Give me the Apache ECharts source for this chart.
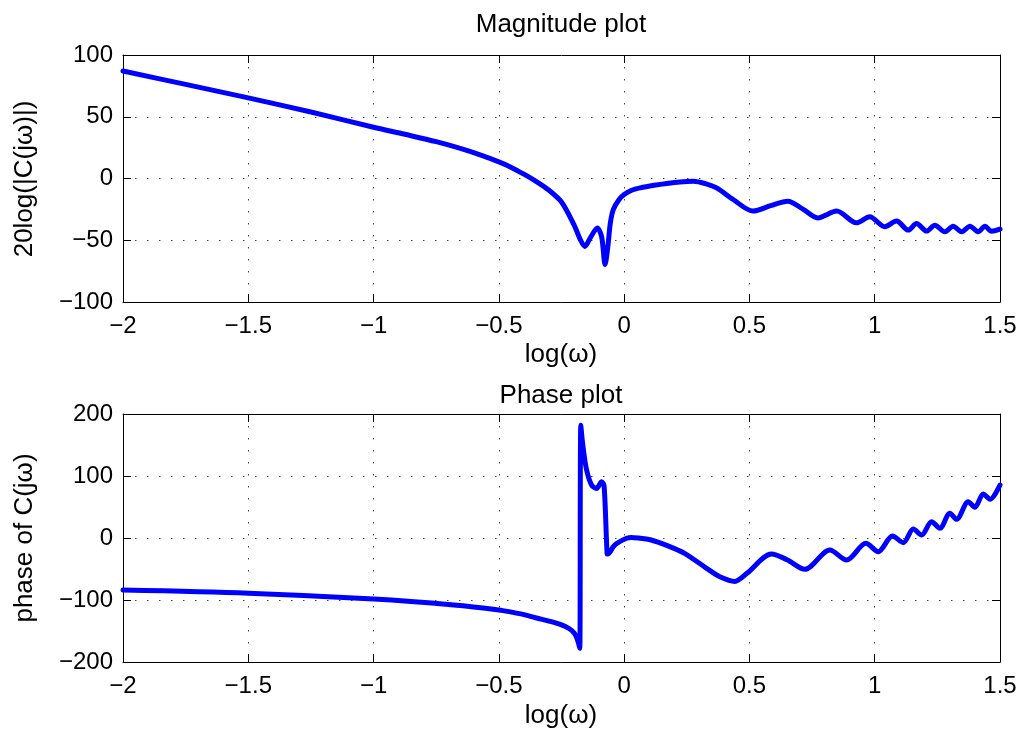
<!DOCTYPE html>
<html>
<head>
<meta charset="utf-8">
<script src="https://cdn.jsdelivr.net/npm/echarts@6/dist/echarts.min.js"></script>
<style>html,body{margin:0;padding:0;background:#fff;}#c{width:1029px;height:738px;}</style>
</head>
<body>
<div id="c"></div>
<script>
// ---- data ----
var xTicks = [-2, -1.5, -1, -0.5, 0, 0.5, 1, 1.5];
var magTicks = [-100, -50, 0, 50, 100];
var phaseTicks = [-200, -100, 0, 100, 200];

var magX = [-2, -1.75, -1.5, -1.25, -1, -0.875, -0.75, -0.625, -0.5, -0.45, -0.4, -0.35, -0.3, -0.25, -0.2, -0.176, -0.157, -0.135, -0.107, -0.09, -0.076, -0.065, -0.055, -0.043, -0.02, 0, 0.03, 0.064, 0.12, 0.17, 0.223, 0.276, 0.33, 0.369, 0.435, 0.515, 0.585, 0.653, 0.715, 0.773, 0.848, 0.927, 0.98, 1.04, 1.087, 1.134, 1.167, 1.207, 1.24, 1.28, 1.313, 1.347, 1.38, 1.413, 1.44, 1.466, 1.5];
var magY = [87, 76.2, 65.3, 53.8, 41.5, 35.8, 29.8, 22.5, 13.5, 9, 3.5, -2.5, -9.5, -19, -37.5, -49, -55, -48, -40, -47, -69.6, -55, -36, -25, -17, -13, -9.5, -7.6, -5.5, -4, -2.8, -2.3, -4.5, -7.6, -17, -26.4, -22, -18.4, -25, -31.9, -26.4, -35.9, -31, -39, -34.5, -41.8, -36.4, -42.6, -37.8, -43.2, -38.6, -43.2, -38.6, -43.2, -38.6, -42.7, -41];

var phaseX = [-2, -1.5, -1, -0.68, -0.5, -0.45, -0.4, -0.35, -0.3, -0.25, -0.22, -0.2, -0.19, -0.182, -0.177, -0.173, -0.165, -0.15, -0.13, -0.11, -0.09, -0.08, -0.068, -0.064, -0.043, -0.029, 0.01, 0.028, 0.064, 0.108, 0.17, 0.241, 0.329, 0.38, 0.442, 0.49, 0.588, 0.65, 0.721, 0.821, 0.888, 0.965, 1.014, 1.071, 1.114, 1.154, 1.187, 1.227, 1.26, 1.30, 1.327, 1.373, 1.40, 1.433, 1.46, 1.5];
var phaseY = [-84, -89, -98.4, -108, -116, -119.5, -123.5, -129, -134, -140, -146, -153, -160, -170, -178, 182, 150, 110, 85.5, 80, 90.8, 84, -25, -25.8, -14, -8.5, -0.5, 1, -0.5, -3.2, -12, -24.7, -48.9, -62, -70, -57, -25.8, -35, -50.5, -19.4, -35.5, -8.6, -22, 3.2, -7.5, 14.5, 4.8, 26.3, 15.6, 39.8, 30.1, 58.5, 49.5, 71, 62.4, 85.5];

function pairs(xs, ys) { return xs.map(function (x, i) { return [x, ys[i]]; }); }
function fmt(v) { return String(v).replace('-', '\u2212'); }

var FONT = '"Liberation Sans", Arial, sans-serif';
var labelStyle = { color: '#000', fontSize: 24, fontFamily: FONT };
var gridLine = { show: true, lineStyle: { color: '#444', width: 1, type: [1.5, 10.5] } };
var frameLine = { show: true, onZero: false, lineStyle: { color: '#000', width: 1 } };
var tickIn = { show: true, inside: true, length: 8, lineStyle: { color: '#000' } };

function xAxes(gi, ticks) {
  return [
    { type: 'value', gridIndex: gi, min: ticks[0], max: ticks[ticks.length - 1], interval: 0.5, position: 'bottom',
      axisLine: frameLine, axisTick: tickIn,
      axisLabel: Object.assign({ margin: 12, formatter: fmt }, labelStyle),
      splitLine: gridLine },
    { type: 'value', gridIndex: gi, min: ticks[0], max: ticks[ticks.length - 1], interval: 0.5, position: 'top',
      axisLine: frameLine, axisTick: tickIn,
      axisLabel: { show: false }, splitLine: { show: false } }
  ];
}
function yAxes(gi, ticks) {
  var step = ticks[1] - ticks[0];
  return [
    { type: 'value', gridIndex: gi, min: ticks[0], max: ticks[ticks.length - 1], interval: step, position: 'left',
      axisLine: frameLine, axisTick: tickIn,
      axisLabel: Object.assign({ margin: 10, formatter: fmt }, labelStyle),
      splitLine: gridLine },
    { type: 'value', gridIndex: gi, min: ticks[0], max: ticks[ticks.length - 1], interval: step, position: 'right',
      axisLine: frameLine, axisTick: tickIn,
      axisLabel: { show: false }, splitLine: { show: false } }
  ];
}

var chart = echarts.init(document.getElementById('c'), null, { renderer: 'canvas' });
var lineSeries = function (xi, yi, data) {
  return { type: 'line', xAxisIndex: xi, yAxisIndex: yi, data: data, showSymbol: false, symbol: 'none',
    smooth: 0.3, lineStyle: { color: '#0000ff', width: 5, cap: 'round', join: 'round' },
    animation: false, z: 3 };
};

function txt(x, y, s, rot) {
  return { type: 'text', x: x, y: y, rotation: rot || 0, z: 10,
    style: { text: s, fill: '#000', font: '26px ' + FONT, textAlign: 'center', textVerticalAlign: 'middle' } };
}

chart.setOption({
  animation: false,
  backgroundColor: '#fff',
  grid: [
    { left: 123, top: 55, width: 877, height: 247, containLabel: false },
    { left: 123, top: 414, width: 877, height: 248, containLabel: false }
  ],
  xAxis: xAxes(0, xTicks).concat(xAxes(1, xTicks)),
  yAxis: yAxes(0, magTicks).concat(yAxes(1, phaseTicks)),
  series: [
    lineSeries(0, 0, pairs(magX, magY)),
    lineSeries(2, 2, pairs(phaseX, phaseY))
  ],
  graphic: [
    txt(561, 25, 'Magnitude plot'),
    txt(561, 355, 'log(\u03c9)'),
    txt(25, 179, '20log(|C(j\u03c9)|)', Math.PI / 2),
    txt(561, 396, 'Phase plot'),
    txt(561, 716, 'log(\u03c9)'),
    txt(25, 538, 'phase of C(j\u03c9)', Math.PI / 2)
  ]
});
</script>
</body>
</html>
